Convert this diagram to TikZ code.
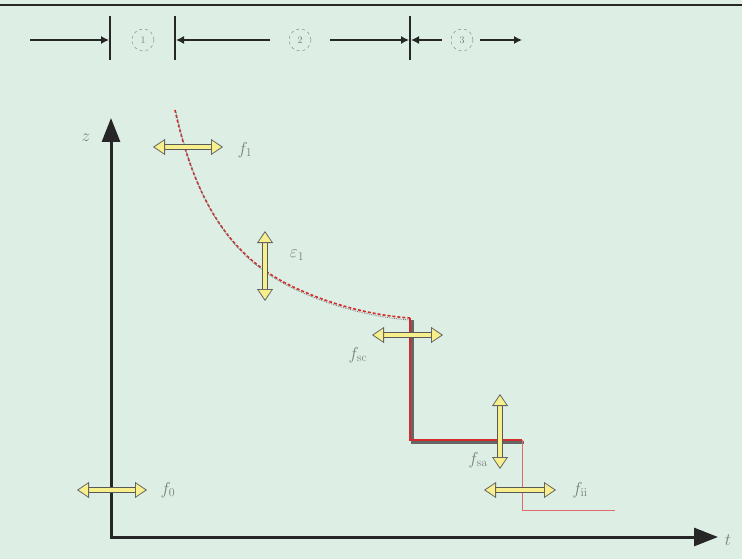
\documentclass[tikz,border=0pt]{standalone}
\usetikzlibrary{arrows.meta}
\definecolor{bg}{HTML}{DDEEE4}
\definecolor{curvered}{HTML}{D42A2A}
\definecolor{yel}{HTML}{F7EE8C}
\definecolor{lab}{HTML}{7A7F7C}
\tikzset{
  yshadow/.style={line width=6pt, draw=black!65, shorten <=9pt, shorten >=9pt},
  yarrow/.style={line width=3.4pt, draw=yel,
    {Triangle[length=12pt,width=16pt,fill=yel,color=black!60,line width=0.8pt]}-{Triangle[length=12pt,width=16pt,fill=yel,color=black!60,line width=0.8pt]}},
  toparrow/.style={line width=1.3pt, draw=black!85, -{Latex[length=8pt,width=8pt]}},
  bar/.style={line width=1.8pt, draw=black!85},
  numcirc/.style={circle, draw=lab, dashed, minimum size=22pt, inner sep=0pt, text=lab, font=\normalsize},
  lbl/.style={text=lab, font=\LARGE\itshape},
  axis/.style={line width=3pt, draw=black!85, -{Triangle[length=24pt,width=18pt]}},
}
\begin{document}
\begin{tikzpicture}[x=1pt,y=-1pt]
\fill[bg] (0,0) rectangle (742,559);
\useasboundingbox (0,0) rectangle (742,559);
\draw[line width=2pt, black!85] (0,5) -- (742,5);

% top row
\coordinate (a1s) at (30,40); \coordinate (a1e) at (109,40);
\draw[toparrow] (a1s) -- (a1e);
\coordinate (b1t) at (110,16); \coordinate (b1b) at (110,60);
\draw[bar] (b1t) -- (b1b);
\node[numcirc] (c1) at (143,40) {1};
\coordinate (b2t) at (175,16); \coordinate (b2b) at (175,60);
\draw[bar] (b2t) -- (b2b);
\coordinate (a2s) at (270,40); \coordinate (a2e) at (176,40);
\draw[toparrow] (a2s) -- (a2e);
\node[numcirc] (c2) at (300,40) {2};
\coordinate (a3s) at (330,40); \coordinate (a3e) at (409,40);
\draw[toparrow] (a3s) -- (a3e);
\coordinate (b3t) at (410,16); \coordinate (b3b) at (410,60);
\draw[bar] (b3t) -- (b3b);
\coordinate (a4s) at (442,40); \coordinate (a4e) at (411,40);
\draw[toparrow] (a4s) -- (a4e);
\node[numcirc] (c3) at (462,40) {3};
\coordinate (a5s) at (480,40); \coordinate (a5e) at (522,40);
\draw[toparrow] (a5s) -- (a5e);

% axes
\coordinate (O) at (111,537);
\coordinate (Y) at (111,118);
\coordinate (X) at (718,537);
\draw[axis] (O) -- (Y);
\draw[axis] (O) -- (X);
\fill[black!85] ([xshift=-1.5pt,yshift=1.5pt]O) rectangle ([xshift=1.5pt,yshift=-1.5pt]O);
\node[lbl] (zl) at (86,138) {$z$};
\node[lbl] (tl) at (728,540) {$t$};

% curve
\draw[curvered, line width=1.6pt, densely dashed]
  (175,110) .. controls (195,200) and (230,260) .. (300,290)
  .. controls (340,308) and (380,316) .. (410,318);
\draw[black!55, line width=0.8pt, densely dotted]
  (176,112) .. controls (196,202) and (231,262) .. (301,292)
  .. controls (341,310) and (381,318) .. (410,320);
\draw[black!60, line width=3pt] (412,320) -- (412,442) -- (524,442);
\draw[curvered, line width=2.2pt] (410,318) -- (410,440) -- (522,440);
\draw[curvered!70, line width=1pt] (522,440) -- (522,510) -- (615,510);

% double arrows
\coordinate (h1a) at (153,147); \coordinate (h1b) at (223,147);
\draw[yshadow] (h1a) -- (h1b); \draw[yarrow] (h1a) -- (h1b);
\coordinate (v1a) at (265,231); \coordinate (v1b) at (265,301);
\draw[yshadow] (v1a) -- (v1b); \draw[yarrow] (v1a) -- (v1b);
\coordinate (h2a) at (372,335); \coordinate (h2b) at (443,335);
\draw[yshadow] (h2a) -- (h2b); \draw[yarrow] (h2a) -- (h2b);
\coordinate (v2a) at (500,394); \coordinate (v2b) at (500,469);
\draw[yshadow] (v2a) -- (v2b); \draw[yarrow] (v2a) -- (v2b);
\coordinate (h3a) at (484,490); \coordinate (h3b) at (556,490);
\draw[yshadow] (h3a) -- (h3b); \draw[yarrow] (h3a) -- (h3b);
\coordinate (h4a) at (77,490); \coordinate (h4b) at (147,490);
\draw[yshadow] (h4a) -- (h4b); \draw[yarrow] (h4a) -- (h4b);

% labels
\node[lbl] (l1) at (245,150) {$f_1$};
\node[lbl] (l2) at (297,255) {$\varepsilon_1$};
\node[lbl] (l3) at (358,355) {$f_{\mathrm{sc}}$};
\node[lbl] (l4) at (478,460) {$f_{\mathrm{sa}}$};
\node[lbl] (l5) at (580,490) {$f_{\mathrm{ii}}$};
\node[lbl] (l6) at (168,490) {$f_0$};
\end{tikzpicture}
\end{document}
